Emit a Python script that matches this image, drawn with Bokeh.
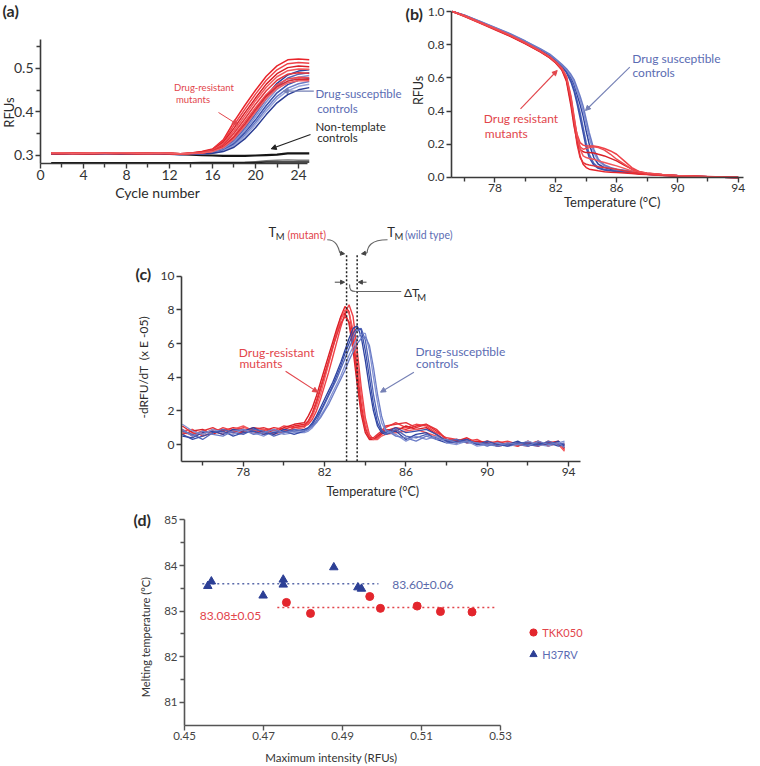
import math
from bokeh.plotting import figure
from bokeh.models import (Range1d, FixedTicker, Label, Arrow, NormalHead,
                          NumeralTickFormatter, Legend, LegendItem)
from bokeh.layouts import column, row
from bokeh.embed import file_html
from bokeh.resources import INLINE

# ---------------------------------------------------------------- data
# (a) amplification curves
CYCLES = list(range(1, 26))
A_RED = [
    [0.306,0.305,0.306,0.305,0.306,0.306,0.305,0.306,0.305,0.305,0.306,0.305,0.304,0.306,0.309,0.315,0.336,0.378,0.415,0.450,0.482,0.506,0.520,0.522,0.520],
    [0.305,0.305,0.304,0.305,0.305,0.306,0.305,0.305,0.305,0.304,0.305,0.305,0.303,0.306,0.308,0.314,0.333,0.370,0.406,0.441,0.473,0.497,0.511,0.514,0.512],
    [0.304,0.304,0.305,0.304,0.305,0.305,0.304,0.305,0.304,0.305,0.304,0.304,0.303,0.305,0.308,0.313,0.330,0.363,0.398,0.432,0.464,0.488,0.502,0.506,0.504],
    [0.306,0.305,0.305,0.306,0.305,0.305,0.306,0.305,0.305,0.306,0.305,0.305,0.304,0.305,0.307,0.312,0.327,0.357,0.391,0.426,0.457,0.481,0.495,0.499,0.498],
    [0.305,0.304,0.305,0.305,0.304,0.305,0.305,0.304,0.305,0.305,0.305,0.304,0.303,0.305,0.307,0.311,0.324,0.351,0.384,0.418,0.449,0.473,0.487,0.490,0.489],
    [0.304,0.305,0.304,0.304,0.305,0.304,0.304,0.305,0.304,0.304,0.304,0.305,0.303,0.304,0.306,0.310,0.321,0.345,0.377,0.410,0.440,0.463,0.476,0.480,0.479],
    [0.305,0.305,0.305,0.304,0.304,0.305,0.305,0.305,0.304,0.305,0.305,0.305,0.304,0.305,0.306,0.310,0.320,0.342,0.372,0.405,0.436,0.458,0.471,0.476,0.475],
    [0.306,0.306,0.305,0.305,0.306,0.305,0.306,0.306,0.305,0.305,0.306,0.305,0.304,0.305,0.306,0.309,0.318,0.338,0.367,0.400,0.431,0.454,0.467,0.472,0.472],
]
A_BLUE = [
    [0.304,0.304,0.304,0.304,0.304,0.305,0.304,0.304,0.304,0.304,0.304,0.304,0.303,0.304,0.305,0.308,0.317,0.338,0.368,0.402,0.437,0.466,0.485,0.494,0.497],
    [0.305,0.304,0.304,0.305,0.304,0.304,0.305,0.304,0.304,0.305,0.304,0.304,0.303,0.304,0.305,0.307,0.315,0.334,0.362,0.395,0.430,0.459,0.478,0.487,0.490],
    [0.304,0.304,0.305,0.304,0.304,0.304,0.304,0.305,0.304,0.304,0.304,0.303,0.303,0.304,0.305,0.307,0.314,0.331,0.357,0.389,0.423,0.452,0.471,0.480,0.484],
    [0.303,0.304,0.304,0.303,0.304,0.304,0.303,0.304,0.304,0.303,0.304,0.304,0.303,0.304,0.304,0.306,0.312,0.327,0.352,0.382,0.415,0.444,0.463,0.473,0.477],
    [0.304,0.303,0.304,0.304,0.303,0.304,0.304,0.303,0.304,0.304,0.303,0.304,0.303,0.303,0.304,0.306,0.311,0.324,0.347,0.376,0.408,0.436,0.455,0.465,0.470],
    [0.304,0.304,0.303,0.304,0.304,0.303,0.304,0.304,0.303,0.304,0.304,0.303,0.303,0.304,0.304,0.305,0.310,0.322,0.343,0.371,0.402,0.430,0.449,0.459,0.464],
    [0.303,0.303,0.304,0.303,0.303,0.304,0.303,0.303,0.304,0.303,0.303,0.303,0.302,0.303,0.304,0.305,0.309,0.319,0.338,0.364,0.394,0.421,0.440,0.451,0.456],
]
A_NTC = [
    [0.305,0.305,0.304,0.305,0.305,0.305,0.305,0.304,0.305,0.305,0.305,0.304,0.303,0.302,0.301,0.300,0.299,0.299,0.299,0.300,0.301,0.302,0.305,0.305,0.305],
    [0.283,0.283,0.283,0.283,0.283,0.283,0.283,0.283,0.283,0.283,0.283,0.283,0.283,0.283,0.283,0.283,0.283,0.283,0.284,0.286,0.288,0.289,0.290,0.289,0.289],
    [0.283,0.283,0.283,0.283,0.283,0.283,0.283,0.283,0.283,0.283,0.283,0.283,0.283,0.283,0.284,0.284,0.284,0.284,0.284,0.284,0.285,0.285,0.285,0.285,0.285],
]

# (b) melting curves
B_TEMP = [75.2, 76, 77, 78, 79, 80, 81, 81.6, 82.0, 82.4, 82.7, 83.0, 83.2, 83.4, 83.6, 83.8, 84.0,
          84.2, 84.5, 84.8, 85.2, 85.6, 86.0, 86.5, 87.0, 87.5, 88.0, 89.0, 90.0, 91.0, 92.0, 93.0, 94.0]
B_RED = [
    [1.0,0.975,0.935,0.895,0.855,0.81,0.76,0.725,0.695,0.655,0.6,0.47,0.35,0.22,0.13,0.08,0.06,0.05,0.045,0.04,0.035,0.032,0.03,0.027,0.024,0.02,0.018,0.012,0.008,0.006,0.004,0.002,0.0],
    [1.0,0.97,0.93,0.89,0.85,0.805,0.755,0.72,0.69,0.65,0.59,0.45,0.34,0.26,0.21,0.195,0.19,0.19,0.19,0.185,0.175,0.16,0.14,0.1,0.06,0.035,0.025,0.018,0.012,0.009,0.006,0.003,0.0],
    [1.0,0.972,0.933,0.893,0.852,0.807,0.757,0.722,0.69,0.648,0.58,0.43,0.31,0.22,0.17,0.155,0.15,0.15,0.148,0.14,0.13,0.115,0.1,0.075,0.05,0.032,0.024,0.016,0.011,0.008,0.005,0.002,0.0],
    [1.0,0.974,0.936,0.898,0.858,0.812,0.762,0.727,0.697,0.66,0.61,0.49,0.37,0.25,0.17,0.13,0.12,0.115,0.11,0.1,0.09,0.08,0.07,0.055,0.04,0.028,0.022,0.015,0.01,0.007,0.004,0.002,0.0],
    [1.0,0.971,0.932,0.894,0.853,0.808,0.758,0.724,0.692,0.652,0.595,0.46,0.33,0.2,0.12,0.09,0.08,0.075,0.07,0.065,0.06,0.055,0.05,0.04,0.032,0.025,0.02,0.014,0.01,0.007,0.004,0.002,0.0],
    [1.0,0.973,0.934,0.896,0.856,0.811,0.76,0.726,0.694,0.656,0.605,0.48,0.36,0.25,0.185,0.17,0.175,0.18,0.185,0.18,0.165,0.14,0.11,0.08,0.05,0.035,0.027,0.018,0.012,0.008,0.005,0.002,0.0],
]
B_BLUE = [
    [1.0,0.976,0.938,0.9,0.862,0.818,0.77,0.737,0.707,0.675,0.645,0.6,0.56,0.5,0.44,0.37,0.28,0.2,0.12,0.08,0.06,0.05,0.045,0.04,0.035,0.028,0.022,0.015,0.01,0.007,0.004,0.002,0.0],
    [1.0,0.975,0.937,0.899,0.86,0.815,0.767,0.733,0.703,0.67,0.638,0.585,0.535,0.465,0.39,0.3,0.21,0.14,0.085,0.06,0.048,0.042,0.038,0.034,0.03,0.025,0.02,0.014,0.01,0.007,0.004,0.002,0.0],
    [1.0,0.977,0.94,0.902,0.864,0.82,0.772,0.74,0.71,0.678,0.65,0.61,0.575,0.52,0.465,0.4,0.32,0.24,0.15,0.1,0.07,0.055,0.048,0.042,0.036,0.03,0.024,0.016,0.011,0.008,0.005,0.002,0.0],
    [1.0,0.974,0.936,0.897,0.858,0.813,0.765,0.731,0.7,0.666,0.632,0.575,0.52,0.445,0.36,0.27,0.18,0.12,0.075,0.055,0.045,0.04,0.036,0.032,0.028,0.023,0.019,0.013,0.009,0.006,0.004,0.002,0.0],
    [1.0,0.978,0.941,0.904,0.866,0.822,0.775,0.743,0.713,0.682,0.655,0.62,0.59,0.54,0.49,0.43,0.35,0.27,0.17,0.11,0.075,0.06,0.05,0.044,0.038,0.031,0.025,0.017,0.012,0.008,0.005,0.002,0.0],
]

# (c) negative derivative of melting curves (x E-05)
C_TEMP = [75.0, 75.5, 76.0, 76.5, 77.0, 77.5, 78.0, 78.5, 79.0, 79.5, 80.0, 80.5,
          81.0, 81.2, 81.4, 81.6, 81.8, 82.0, 82.2, 82.4, 82.6, 82.8, 83.0, 83.2, 83.4, 83.6,
          83.8, 84.0, 84.2, 84.4, 84.6, 84.8, 85.0,
          85.5, 86.0, 86.5, 87.0, 87.5, 88.0, 88.5, 89.0, 89.5, 90.0, 90.5, 91.0, 91.5, 92.0,
          92.5, 93.0, 93.5, 93.8]
C_RED = [
    [1.1,0.7,0.6,0.9,0.8,1.0,0.9,0.7,0.8,1.0,0.9,1.1,
     1.2,1.4,1.8,2.5,3.3,4.1,4.9,5.8,6.7,7.6,8.2,7.9,6.4,4.4,2.4,1.0,0.4,0.3,0.4,0.6,0.8,
     1.0,0.9,1.1,1.2,0.8,0.3,0.2,0.4,0.1,0.2,0.0,0.1,-0.1,0.2,-0.1,0.1,0.2,-0.3],
    [0.8,0.9,0.5,0.7,1.0,0.8,1.0,0.9,0.6,0.8,1.1,1.0,
     1.1,1.2,1.5,2.0,2.7,3.5,4.3,5.2,6.1,7.0,7.8,8.3,7.6,5.6,3.4,1.6,0.6,0.3,0.4,0.7,1.0,
     1.3,1.0,1.2,1.1,0.7,0.4,0.3,0.2,0.3,0.0,0.1,0.2,0.0,-0.1,0.1,0.0,0.1,-0.2],
    [0.6,0.8,0.9,0.6,0.9,0.7,0.8,1.0,0.9,0.7,1.0,1.2,
     1.3,1.7,2.2,2.9,3.7,4.5,5.3,6.1,6.9,7.6,7.8,7.2,5.6,3.6,1.8,0.7,0.3,0.3,0.5,0.7,0.9,
     0.8,1.1,0.9,1.0,0.6,0.2,0.3,0.1,0.2,0.1,-0.1,0.0,0.1,0.0,0.2,-0.1,0.1,0.0],
    [0.9,0.5,0.7,0.8,0.6,0.9,1.1,0.8,0.9,0.6,0.8,0.9,
     1.0,1.3,1.7,2.3,3.0,3.9,4.8,5.7,6.6,7.4,8.0,7.8,6.8,4.9,2.9,1.3,0.5,0.3,0.3,0.5,0.6,
     0.7,0.8,0.9,0.7,0.5,0.2,0.1,0.3,0.0,0.2,0.1,-0.1,0.1,0.0,-0.1,0.2,0.0,-0.4],
    [0.7,0.6,0.8,1.0,0.7,0.8,0.7,0.9,1.0,0.8,0.7,1.0,
     1.1,1.4,1.9,2.6,3.4,4.2,5.0,5.8,6.5,7.2,7.6,7.3,6.0,4.0,2.1,0.9,0.4,0.4,0.6,0.8,1.1,
     1.2,1.3,1.0,1.2,0.9,0.3,0.2,0.2,0.1,0.0,0.2,0.0,-0.1,0.1,0.0,0.1,0.1,-0.2],
]
C_BLUE = [
    [0.5,0.4,0.7,0.8,0.6,0.9,0.8,1.0,0.7,0.6,0.9,0.8,
     0.9,1.0,1.3,1.7,2.2,2.7,3.2,3.7,4.3,4.9,5.6,6.3,6.9,7.05,6.4,5.0,3.4,2.0,1.1,0.7,0.6,
     0.8,0.3,0.6,0.7,0.3,0.1,0.2,0.3,0.0,0.1,-0.1,0.0,0.2,-0.1,0.1,0.0,0.2,-0.1],
    [0.8,0.6,0.3,0.7,0.9,0.7,0.6,0.9,0.8,0.5,0.7,0.9,
     0.8,0.9,1.1,1.4,1.9,2.4,2.9,3.4,3.9,4.5,5.1,5.7,6.3,6.8,6.9,6.2,4.7,3.0,1.7,0.9,0.6,
     0.9,0.5,0.4,0.6,0.4,0.2,0.3,0.1,0.1,-0.1,0.1,0.0,0.1,0.0,-0.1,0.2,0.0,0.1],
    [1.2,0.8,0.6,0.9,0.7,0.6,0.9,0.7,0.5,0.8,0.6,0.7,
     0.7,0.8,1.0,1.3,1.7,2.1,2.6,3.1,3.6,4.1,4.7,5.3,5.8,6.3,6.6,6.6,5.6,4.0,2.5,1.3,0.8,
     0.6,0.2,0.5,0.3,0.5,0.1,0.0,0.2,-0.1,0.0,0.1,-0.1,0.0,0.2,0.0,-0.1,0.1,0.2],
    [0.6,0.3,0.5,0.7,0.8,0.5,0.7,0.8,0.6,0.7,0.8,0.6,
     0.8,1.0,1.2,1.6,2.0,2.5,3.0,3.5,4.1,4.7,5.4,6.0,6.6,6.95,6.8,5.6,4.0,2.4,1.3,0.8,0.7,
     1.0,0.7,0.8,0.9,0.6,0.2,0.1,0.3,0.0,0.2,0.0,-0.1,0.1,0.1,0.0,0.1,-0.1,0.0],
    [0.9,0.5,0.8,0.6,0.5,0.8,0.9,0.6,0.7,0.9,0.7,0.8,
     0.8,0.9,1.1,1.3,1.6,2.0,2.4,2.9,3.4,3.9,4.4,5.0,5.5,6.0,6.3,6.4,5.9,4.6,3.0,1.7,0.9,
     0.5,0.4,0.2,0.5,0.3,0.3,0.1,0.2,0.1,0.0,-0.1,0.1,0.0,-0.1,0.2,0.0,0.1,-0.2],
]

# melting temperatures (mean, sd)
TM_MUT, TM_MUT_SD = 83.08, 0.05
TM_WT, TM_WT_SD = 83.60, 0.06

# (d) melting temperature vs maximum intensity
D_MUT_X = [0.4758, 0.4819, 0.4969, 0.4996, 0.5089, 0.5148, 0.5228]
D_MUT_Y = [83.19, 82.95, 83.32, 83.06, 83.11, 82.99, 82.98]
D_WT_X = [0.4559, 0.4568, 0.4699, 0.4750, 0.4750, 0.4878, 0.4939, 0.4948]
D_WT_Y = [83.55, 83.65, 83.34, 83.69, 83.58, 83.96, 83.52, 83.49]
D_LABELS = ["TKK050", "H37RV"]

# ---------------------------------------------------------------- style
FONT = "Lato"
AX = "#3a3a3a"
DARK = "#2b2b2b"
RED = "#e3262d"
RED_TXT = "#e2454b"
BLUE_TXT = "#5b6cb3"
NAVY = "#2c3f95"
ARROW_BLUE = "#7580b5"
REDS = ["#e8252b", "#ef4147", "#d91f26", "#f2585c", "#e4343a", "#ee4c51", "#dc2a30", "#f06065"]
BLUES = ["#2d42a0", "#5366b8", "#8593d3", "#3a50ab", "#6b7cc6", "#9aa6dc", "#2a3d94"]


def base_fig(width, height, xr, yr):
    # the plot frame fills the whole canvas; axes are pinned at data locations
    p = figure(width=width, height=height, frame_width=width, frame_height=height,
               x_range=Range1d(*xr), y_range=Range1d(*yr), title=None,
               min_border=0, output_backend="svg", toolbar_location=None)
    p.outline_line_color = None
    p.xgrid.visible = False
    p.ygrid.visible = False
    p.background_fill_color = "white"
    p.border_fill_color = "white"
    return p


def style_axis(ax, ticks, minor, fs, fixed, bounds, fmt=None, color=AX, lcolor="#333333"):
    ax.ticker = FixedTicker(ticks=ticks, minor_ticks=minor)
    ax.fixed_location = fixed
    ax.bounds = bounds
    ax.axis_line_color = color
    ax.axis_line_width = 1.6
    ax.major_tick_line_color = color
    ax.major_tick_line_width = 1.4
    ax.minor_tick_line_color = color
    ax.minor_tick_line_width = 1.4
    ax.major_tick_in = 0
    ax.major_tick_out = 5
    ax.minor_tick_in = 0
    ax.minor_tick_out = 4
    ax.major_label_text_font = FONT
    ax.major_label_text_font_size = f"{fs}px"
    ax.major_label_text_color = lcolor
    ax.major_label_standoff = 2
    if fmt:
        ax.formatter = NumeralTickFormatter(format=fmt)


def txt(p, x, y, s, size, color=DARK, align="left", angle=0.0, bold=False):
    p.add_layout(Label(x=x, y=y, text=s, text_font=FONT, text_font_size=f"{size}px",
                       text_color=color, text_align=align, text_baseline="middle",
                       angle=angle, text_font_style="bold" if bold else "normal"))


def arr(p, x0, y0, x1, y1, color, size=6, width=1.2):
    p.add_layout(Arrow(end=NormalHead(size=size, fill_color=color, line_color=color, line_width=1),
                       x_start=x0, y_start=y0, x_end=x1, y_end=y1,
                       line_color=color, line_width=width))


# ---------------------------------------------------------------- (a)
pa = base_fig(402, 210, (-3.7209, 33.6744), (0.17356, 0.65632))
style_axis(pa.xaxis[0], [0, 4, 8, 12, 16, 20, 24], [2, 6, 10, 14, 18, 22], 14, 0.28161, (0, 24.8))
style_axis(pa.yaxis[0], [0.3, 0.4, 0.5], [0.35, 0.45, 0.55], 14, 0, (0.28161, 0.5667), "0.0")
pa.line(CYCLES, A_NTC[1], line_color="#777777", line_width=1.4)
pa.line(CYCLES, A_NTC[2], line_color="#151515", line_width=1.6)
pa.line(CYCLES, A_NTC[0], line_color="#151515", line_width=2.2)
for i, ys in enumerate(A_BLUE):
    pa.line(CYCLES, ys, line_color=BLUES[i % len(BLUES)], line_width=1.5)
for i, ys in enumerate(A_RED):
    pa.line(CYCLES, ys, line_color=REDS[i % len(REDS)], line_width=1.5)

txt(pa, -3.535, 0.6333, "(a)", 16, DARK, bold=True)
txt(pa, -2.884, 0.3989, "RFUs", 13, DARK, align="center", angle=math.pi / 2)
txt(pa, 10.884, 0.2149, "Cycle number", 14, DARK, align="center")
txt(pa, 12.419, 0.4563, "Drug-resistant", 9.5, RED_TXT)
txt(pa, 12.605, 0.4287, "mutants", 9.5, RED_TXT)
arr(pa, 16.558, 0.3989, 18.326, 0.3713, RED_TXT, size=5, width=1)
txt(pa, 25.581, 0.4425, "Drug-susceptible", 11.5, BLUE_TXT)
txt(pa, 25.74, 0.408, "controls", 11.5, BLUE_TXT)
arr(pa, 25.423, 0.4478, 22.577, 0.4478, ARROW_BLUE, size=5, width=1.2)
txt(pa, 25.581, 0.3674, "Non-template", 11.5, DARK)
txt(pa, 25.74, 0.3421, "controls", 11.5, DARK)
arr(pa, 25.116, 0.3483, 21.46, 0.3154, "#222222", size=5, width=1.2)

# ---------------------------------------------------------------- (b)
pb = base_fig(356, 210, (71.9145, 95.3355), (-0.1988, 1.06627))
style_axis(pb.xaxis[0], [78, 82, 86, 90, 94], [76, 80, 84, 88, 92], 12, 0.0, (75.138, 94.349))
style_axis(pb.yaxis[0], [0.0, 0.2, 0.4, 0.6, 0.8, 1.0], [], 12, 75.138, (0.0, 1.0), "0.0")
for i, ys in enumerate(B_BLUE):
    pb.line(B_TEMP, ys, line_color=BLUES[i % len(BLUES)], line_width=1.5)
for i, ys in enumerate(B_RED):
    pb.line(B_TEMP, ys, line_color=REDS[i % len(REDS)], line_width=1.5)

txt(pb, 72.112, 0.988, "(b)", 16, DARK, bold=True)
txt(pb, 72.987, 0.524, "RFUs", 12.5, DARK, align="center", angle=math.pi / 2)
txt(pb, 85.711, -0.1488, "Temperature (°C)", 13, DARK, align="center")
txt(pb, 87.026, 0.715, "Drug susceptible", 12, BLUE_TXT)
txt(pb, 87.046, 0.6343, "controls", 12, BLUE_TXT)
arr(pb, 86.868, 0.6645, 83.954, 0.4036, ARROW_BLUE, size=5, width=1.1)
txt(pb, 77.263, 0.3536, "Drug resistant", 12, RED_TXT)
txt(pb, 77.329, 0.2669, "mutants", 12, RED_TXT)
arr(pb, 79.678, 0.4139, 82.092, 0.6446, RED_TXT, size=5, width=1.1)

# ---------------------------------------------------------------- (c)
pc = base_fig(758, 295, (66.057, 103.341), (-3.6245, 13.904))
style_axis(pc.xaxis[0], [78, 82, 86, 90, 94], [76, 80, 84, 88, 92], 12, -1.0, (74.96, 94.59))
style_axis(pc.yaxis[0], [0, 2, 4, 6, 8, 10], [], 12, 74.96, (-1.0, 10.0))
for i, ys in enumerate(C_RED):
    pc.line(C_TEMP, ys, line_color=REDS[i % len(REDS)], line_width=1.4)
for i, ys in enumerate(C_BLUE):
    pc.line(C_TEMP, ys, line_color=BLUES[i % len(BLUES)], line_width=1.3)
pc.segment(x0=[TM_MUT, TM_WT], y0=[-1.0, -1.0], x1=[TM_MUT, TM_WT], y1=[11.35, 11.35],
           line_color="#222222", line_width=1.5, line_dash="2 2")
# connectors from the T_M labels
pc.bezier(x0=[82.127, 85.094], y0=[12.163, 12.163], x1=[82.756, 84.086], y1=[11.367, 11.378],
          cx0=[82.584, 84.258], cy0=[12.163, 12.163], cx1=[82.683, 84.110], cy1=[11.705, 11.765],
          line_color="#666666", line_width=1.1)
arr(pc, 82.756, 11.367, 82.98, 11.331, "#444444", size=4, width=1.1)
arr(pc, 84.086, 11.378, 83.815, 11.331, "#444444", size=4, width=1.1)
# delta T_M marks
arr(pc, 82.50, 9.644, 82.98, 9.644, "#444444", size=4, width=1.0)
arr(pc, 84.06, 9.644, 83.66, 9.644, "#444444", size=4, width=1.0)
pc.bezier(x0=[83.224], y0=[9.507], x1=[83.519], y1=[9.091], cx0=[83.224], cy0=[9.15],
          cx1=[83.32], cy1=[9.091], line_color="#666666", line_width=1.1)
pc.segment(x0=[83.519], y0=[9.091], x1=[85.77], y1=[9.091], line_color="#666666", line_width=1.1)

txt(pc, 79.24, 12.63, "T", 13, DARK)
txt(pc, 79.60, 12.33, "M", 9.5, DARK)
txt(pc, 80.17, 12.42, "(mutant)", 10.5, RED_TXT)
txt(pc, 85.078, 12.63, "T", 13, DARK)
txt(pc, 85.44, 12.33, "M", 9.5, DARK)
txt(pc, 85.95, 12.42, "(wild type)", 10.5, BLUE_TXT)
txt(pc, 85.90, 9.05, "\u0394T", 12, DARK)
txt(pc, 86.56, 8.73, "M", 9.5, DARK)

txt(pc, 72.697, 10.16, "(c)", 16, DARK, bold=True)
txt(pc, 73.09, 4.59, "-dRFU/dT \u00a0(x E -05)", 12, DARK, align="center", angle=math.pi / 2)
txt(pc, 84.37, -2.78, "Temperature (°C)", 12.5, DARK, align="center")
txt(pc, 77.78, 5.48, "Drug-resistant", 12, RED_TXT)
txt(pc, 77.81, 4.795, "mutants", 12, RED_TXT)
arr(pc, 80.08, 4.355, 81.66, 3.11, RED_TXT, size=5, width=1.1)
txt(pc, 86.47, 5.55, "Drug-susceptible", 12, BLUE_TXT)
txt(pc, 86.50, 4.795, "controls", 12, BLUE_TXT)
arr(pc, 86.39, 4.296, 84.75, 3.11, ARROW_BLUE, size=5, width=1.1)

# ---------------------------------------------------------------- (d)
pd_ = base_fig(758, 259, (0.403418, 0.595316), (79.636, 85.3158))
style_axis(pd_.xaxis[0], [0.45, 0.47, 0.49, 0.51, 0.53], [], 11.5, 80.5, (0.45, 0.53), "0.00",
           color="#555555", lcolor="#444444")
style_axis(pd_.yaxis[0], [81, 82, 83, 84, 85], [81.5, 82.5, 83.5, 84.5], 11.5, 0.45, (80.5, 85.0),
           color="#555555", lcolor="#444444")
pd_.segment(x0=[0.4545], y0=[TM_WT], x1=[0.4991], y1=[TM_WT],
            line_color="#5a6aaa", line_width=1.5, line_dash="2 3")
pd_.segment(x0=[0.4735], y0=[TM_MUT], x1=[0.5287], y1=[TM_MUT],
            line_color="#e2454b", line_width=1.5, line_dash="2 3")
r_wt = pd_.scatter(D_WT_X, D_WT_Y, marker="triangle", size=8.5, fill_color=NAVY, line_color=NAVY)
r_mut = pd_.scatter(D_MUT_X, D_MUT_Y, marker="circle", size=8, fill_color=RED, line_color=RED)

for lbl, rend, col, vy in [(D_LABELS[0], r_mut, RED_TXT, 122.7), (D_LABELS[1], r_wt, BLUE_TXT, 100.7)]:
    lg = Legend(items=[LegendItem(label=lbl, renderers=[rend])], location=(524.3, vy),
                padding=0, margin=0, spacing=0, glyph_width=18, glyph_height=18,
                label_height=18, label_standoff=0, label_text_font=FONT,
                label_text_font_size="11px", label_text_color=col,
                border_line_color=None, background_fill_alpha=0)
    pd_.add_layout(lg)

txt(pd_, 0.43709, 85.01, "(d)", 16, DARK, bold=True)
txt(pd_, 0.44013, 82.43, "Melting temperature (°C)", 11, "#333333", align="center", angle=math.pi / 2)
txt(pd_, 0.48717, 79.789, "Maximum intensity (RFUs)", 11.5, "#333333", align="center")
txt(pd_, 0.50258, 83.58, f"{TM_WT:.2f}\u00b1{TM_WT_SD:.2f}", 12, "#5a6aaa")
txt(pd_, 0.45387, 82.90, f"{TM_MUT:.2f}\u00b1{TM_MUT_SD:.2f}", 12, "#e2454b")

layout = column(row(pa, pb), pc, pd_)
open("out.html", "w").write(file_html(layout, INLINE))
